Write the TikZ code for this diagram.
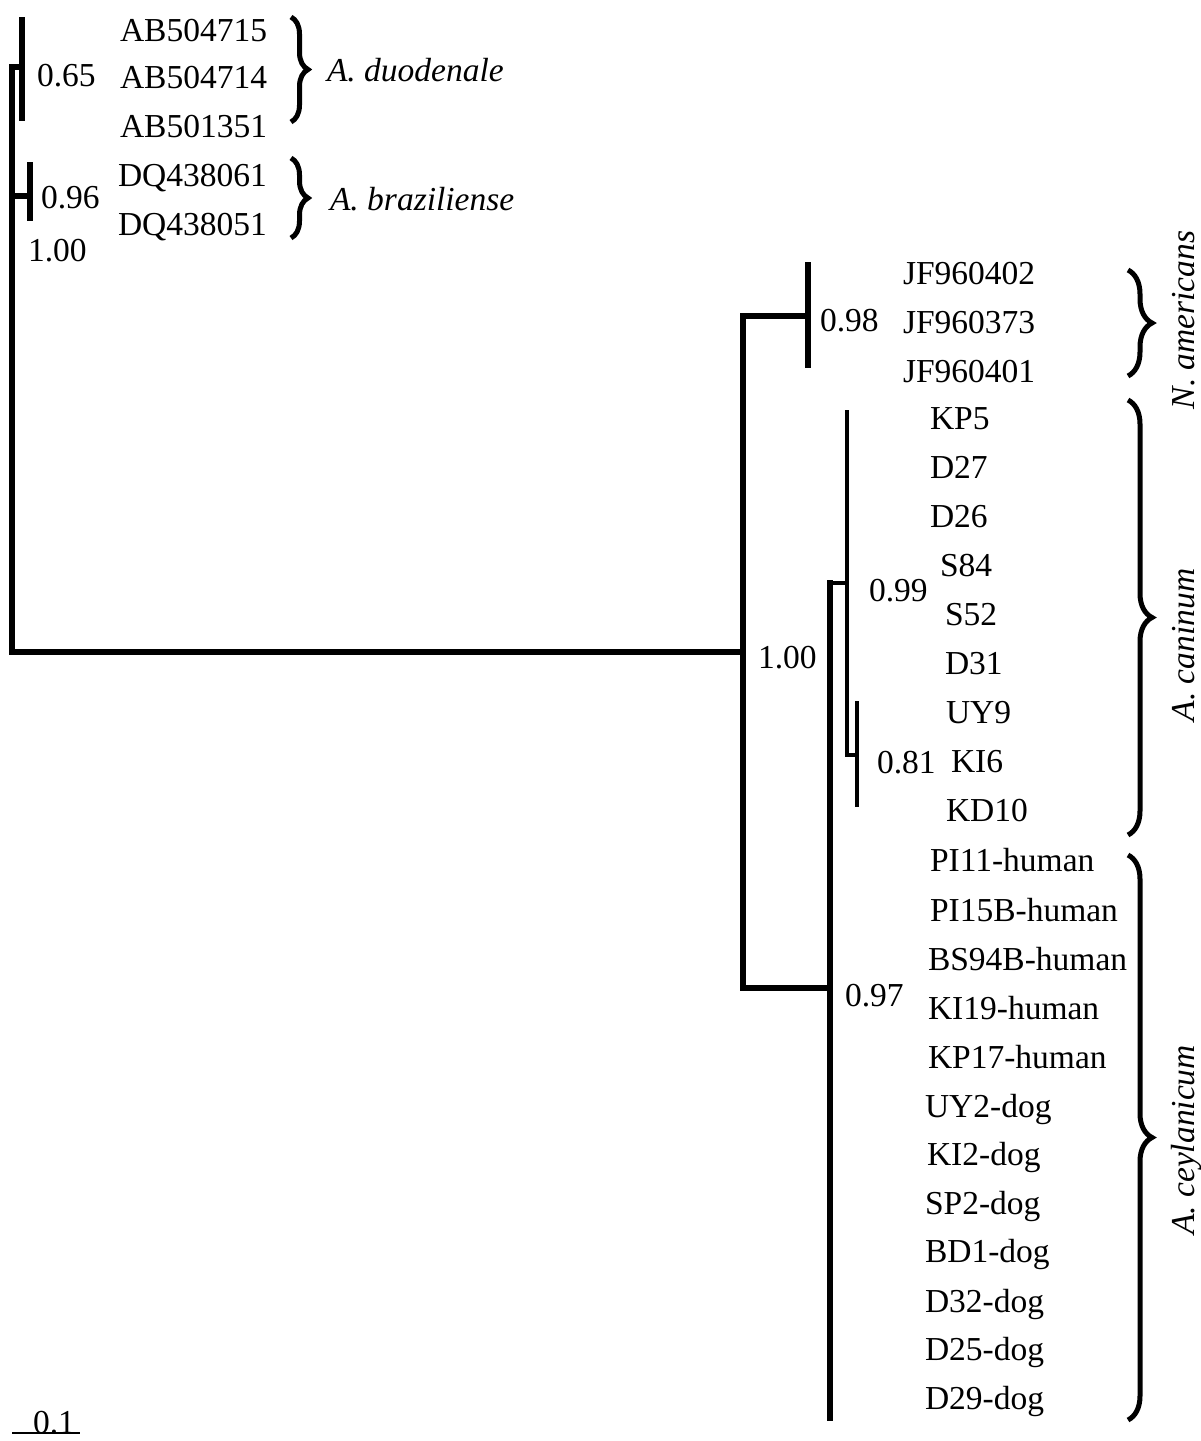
\documentclass[tikz,border=0pt]{standalone}
\usepackage{fontspec}
\setmainfont{Liberation Serif}
\usetikzlibrary{decorations.pathreplacing}
\begin{document}
\begin{tikzpicture}[x=0.5pt,y=-0.5pt,
  every node/.style={inner sep=1pt, outer sep=0pt, font=\fontsize{16.75}{20}\selectfont},
  leaf/.style={anchor=base west, xshift=-1pt},
  supp/.style={anchor=base west, xshift=-1pt},
  taxon/.style={anchor=base west, xshift=-1pt, font=\fontsize{16.75}{20}\selectfont\itshape},
  vtaxon/.style={anchor=base, rotate=90, font=\fontsize{16.75}{20}\selectfont\itshape},
  branch/.style={line width=2.7pt, line cap=rect, line join=miter},
  thinbranch/.style={line width=2.3pt, line cap=rect, line join=miter},
  clade/.style={decorate, decoration={brace, amplitude=#1}, line width=2.5pt},
  clade/.default=12pt]
\useasboundingbox (0,0) rectangle (1200,1441);

% ---------- tree coordinates ----------
\coordinate (root) at (12,652);
\coordinate (rootTop) at (12,67);
\coordinate (rootMid) at (12,196);
\coordinate (nDu) at (22,67);
\coordinate (nDuT) at (22,20);
\coordinate (nDuB) at (22,118);
\coordinate (nBr) at (30,196);
\coordinate (nBrT) at (30,165);
\coordinate (nBrB) at (30,218);
\coordinate (nR) at (743,652);
\coordinate (nRT) at (743,316);
\coordinate (nRB) at (743,988);
\coordinate (nNa) at (808,316);
\coordinate (nNaT) at (808,265);
\coordinate (nNaB) at (808,365);
\coordinate (nAc) at (830,988);
\coordinate (nAcT) at (830,583);
\coordinate (nAcB) at (830,1418);
\coordinate (nCa) at (847,583);
\coordinate (nCaT) at (847,412);
\coordinate (nCaB) at (847,755);
\coordinate (nSub) at (857,755);
\coordinate (nSubT) at (857,703);
\coordinate (nSubB) at (857,805);

% ---------- branches ----------
\draw[branch] (nDu) -- (rootTop) -- (root) -- (nR);
\draw[branch] (rootMid) -- (nBr);
\draw[branch] (nDuT) -- (nDuB);
\draw[branch] (nBrT) -- (nBrB);
\draw[branch] (nRT) -- (nRB);
\draw[branch] (nRT) -- (nNa);
\draw[branch] (nNaT) -- (nNaB);
\draw[branch] (nRB) -- (nAc);
\draw[branch] (nAcT) -- (nAcB);
\draw[thinbranch] (nAcT) -- (nCa);
\draw[thinbranch] (nCaT) -- (nCaB) -- (nSub);
\draw[thinbranch] (nSubT) -- (nSubB);

% ---------- support values ----------
\node[supp] (s065) at (37,86) {0.65};
\node[supp] (s096) at (41,208) {0.96};
\node[supp] (s100a) at (28,261) {1.00};
\node[supp] (s098) at (820,331) {0.98};
\node[supp] (s100b) at (758,668) {1.00};
\node[supp] (s099) at (869,601) {0.99};
\node[supp] (s081) at (877,773) {0.81};
\node[supp] (s097) at (845,1006) {0.97};

% ---------- leaves ----------
\node[leaf] (l1) at (120,41) {AB504715};
\node[leaf] (l2) at (120,88) {AB504714};
\node[leaf] (l3) at (120,137) {AB501351};
\node[leaf] (l4) at (118,186) {DQ438061};
\node[leaf] (l5) at (118,235) {DQ438051};
\node[leaf] (l6) at (903,284) {JF960402};
\node[leaf] (l7) at (903,333) {JF960373};
\node[leaf] (l8) at (903,382) {JF960401};
\node[leaf] (l9) at (930,429) {KP5};
\node[leaf] (l10) at (930,478) {D27};
\node[leaf] (l11) at (930,527) {D26};
\node[leaf] (l12) at (940,576) {S84};
\node[leaf] (l13) at (945,625) {S52};
\node[leaf] (l14) at (945,674) {D31};
\node[leaf] (l15) at (946,723) {UY9};
\node[leaf] (l16) at (951,772) {KI6};
\node[leaf] (l17) at (946,821) {KD10};
\node[leaf] (l18) at (930,871) {PI11-human};
\node[leaf] (l19) at (930,921) {PI15B-human};
\node[leaf] (l20) at (928,970) {BS94B-human};
\node[leaf] (l21) at (928,1019) {KI19-human};
\node[leaf] (l22) at (928,1068) {KP17-human};
\node[leaf] (l23) at (925,1117) {UY2-dog};
\node[leaf] (l24) at (927,1165) {KI2-dog};
\node[leaf] (l25) at (925,1214) {SP2-dog};
\node[leaf] (l26) at (925,1262) {BD1-dog};
\node[leaf] (l27) at (925,1312) {D32-dog};
\node[leaf] (l28) at (925,1360) {D25-dog};
\node[leaf] (l29) at (925,1409) {D29-dog};

% ---------- clade braces ----------
\coordinate (bDuT) at (291,17);
\coordinate (bDuB) at (291,122);
\coordinate (bBrT) at (291,158);
\coordinate (bBrB) at (291,238);
\coordinate (bNaT) at (1128,270);
\coordinate (bNaB) at (1128,376);
\coordinate (bCaT) at (1128,400);
\coordinate (bCaB) at (1128,835);
\coordinate (bCeT) at (1128,855);
\coordinate (bCeB) at (1128,1420);
\draw[clade=8.5pt] (bDuT) -- (bDuB);
\draw[clade=8.5pt] (bBrT) -- (bBrB);
\draw[clade=12pt] (bNaT) -- (bNaB);
\draw[clade=12pt] (bCaT) -- (bCaB);
\draw[clade=12pt] (bCeT) -- (bCeB);

% ---------- taxon names ----------
\node[taxon] (tDu) at (327,81) {A. duodenale};
\node[taxon] (tBr) at (330,210) {A. braziliense};
\node[vtaxon] (tNa) at (1194,320) {N. americans};
\node[vtaxon] (tCa) at (1194,645) {A. caninum};
\node[vtaxon] (tCe) at (1194,1140) {A. ceylanicum};

% ---------- scale bar ----------
\coordinate (sbL) at (12,1433);
\coordinate (sbR) at (80,1433);
\draw[line width=1pt] (sbL) -- (sbR);
\node[anchor=base] (sbT) at (54,1433) {0.1};
\end{tikzpicture}
\end{document}
